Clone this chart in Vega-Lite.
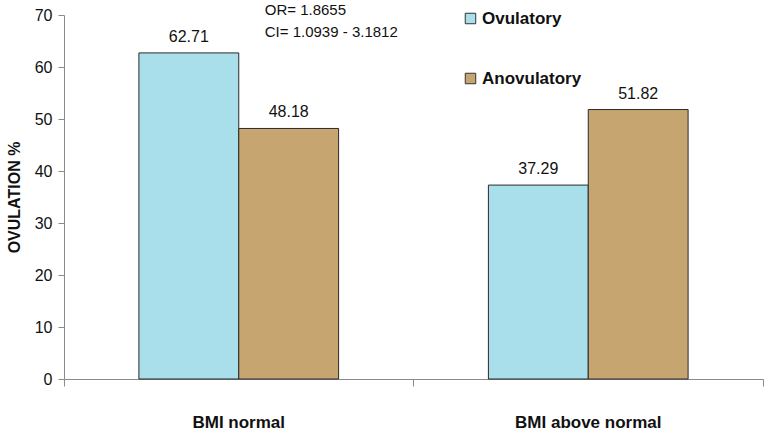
{
  "$schema": "https://vega.github.io/schema/vega-lite/v6.json",
  "autosize": {"type": "none"},
  "padding": {"left": 64, "top": 15, "right": 8, "bottom": 59},
  "width": 699,
  "height": 364,
  "background": "white",
  "config": {
    "view": {"stroke": null},
    "font": "Liberation Sans"
  },
  "datasets": {
    "bars": [
      {"group": "BMI normal", "status": "Ovulatory", "pct": 62.71},
      {"group": "BMI normal", "status": "Anovulatory", "pct": 48.18},
      {"group": "BMI above normal", "status": "Ovulatory", "pct": 37.29},
      {"group": "BMI above normal", "status": "Anovulatory", "pct": 51.82}
    ],
    "notes": [
      {"group": "BMI normal", "pos": 70.9, "label": "OR= 1.8655"},
      {"group": "BMI normal", "pos": 66.8, "label": "CI= 1.0939 - 3.1812"}
    ]
  },
  "layer": [
    {
      "data": {"name": "bars"},
      "mark": {"type": "bar", "stroke": "#2a2a2a", "strokeWidth": 1},
      "encoding": {
        "x": {
          "field": "group",
          "type": "nominal",
          "sort": ["BMI normal", "BMI above normal"],
          "scale": {"paddingInner": 0, "paddingOuter": 0},
          "axis": {
            "title": null,
            "bandPosition": 1,
            "tickExtra": true,
            "labelAngle": 0,
            "labelAlign": "center",
            "labelPadding": 28,
            "labelFontSize": 17,
            "labelFontWeight": "bold",
            "labelColor": "#111",
            "domainColor": "#8a8a8a",
            "tickColor": "#8a8a8a",
            "tickSize": 7
          }
        },
        "xOffset": {
          "field": "status",
          "type": "nominal",
          "sort": ["Ovulatory", "Anovulatory"],
          "scale": {"paddingInner": 0, "paddingOuter": 0.75}
        },
        "y": {
          "field": "pct",
          "type": "quantitative",
          "scale": {"domain": [0, 70]},
          "axis": {
            "title": "OVULATION %",
            "titleFontSize": 16,
            "titleFontWeight": "bold",
            "titleColor": "#111",
            "titlePadding": 12,
            "values": [0, 10, 20, 30, 40, 50, 60, 70],
            "grid": false,
            "labelFontSize": 16,
            "labelColor": "#111",
            "labelPadding": 6,
            "domainColor": "#8a8a8a",
            "tickColor": "#8a8a8a",
            "tickSize": 6
          }
        },
        "color": {
          "field": "status",
          "type": "nominal",
          "sort": ["Ovulatory", "Anovulatory"],
          "scale": {"range": ["#a9dfea", "#c6a571"]},
          "legend": {
            "title": null,
            "orient": "none",
            "legendX": 398,
            "legendY": -5,
            "symbolType": "square",
            "symbolSize": 110,
            "symbolStrokeColor": "#333",
            "symbolStrokeWidth": 1,
            "labelFontSize": 17,
            "labelFontWeight": "bold",
            "labelColor": "#111",
            "labelOffset": 3,
            "rowPadding": 42
          }
        }
      }
    },
    {
      "data": {"name": "bars"},
      "mark": {"type": "text", "baseline": "bottom", "dy": -8, "fontSize": 16, "color": "#111"},
      "encoding": {
        "x": {"field": "group", "type": "nominal", "sort": ["BMI normal", "BMI above normal"]},
        "xOffset": {"field": "status", "type": "nominal", "sort": ["Ovulatory", "Anovulatory"]},
        "y": {"field": "pct", "type": "quantitative"},
        "text": {"field": "pct", "type": "quantitative", "format": ".2f"}
      }
    },
    {
      "data": {"name": "notes"},
      "mark": {"type": "text", "align": "left", "baseline": "middle", "dx": 26, "fontSize": 15, "color": "#111"},
      "encoding": {
        "x": {"field": "group", "type": "nominal", "sort": ["BMI normal", "BMI above normal"]},
        "y": {"field": "pos", "type": "quantitative"},
        "text": {"field": "label", "type": "nominal"}
      }
    }
  ]
}
